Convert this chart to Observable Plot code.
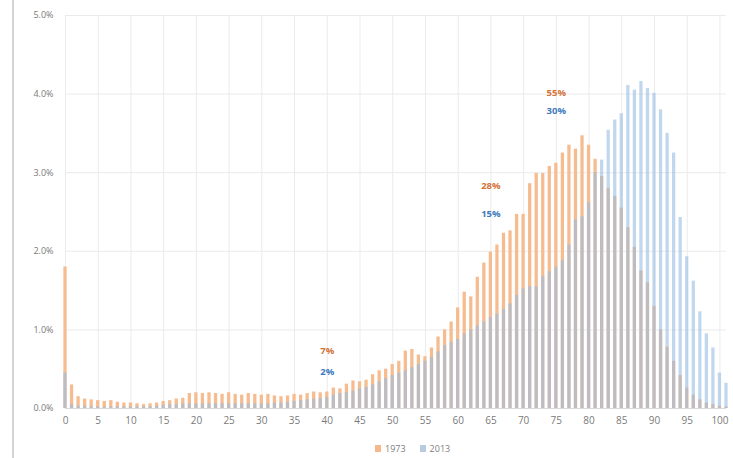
<!DOCTYPE html>
<html><head><meta charset="utf-8">
<script src="https://cdn.jsdelivr.net/npm/d3@7"></script>
<script src="https://cdn.jsdelivr.net/npm/@observablehq/plot@0.6"></script>
<style>
body{margin:0;background:#fff;font-family:"Open Sans","Liberation Sans",sans-serif;}
#wrap{position:relative;width:733px;height:458px;overflow:hidden;}
#frame{position:absolute;left:12px;top:0;width:2px;height:458px;background:#d4d4d4;}
#legend{position:absolute;top:442px;left:375px;font-size:9px;color:#808080;display:flex;align-items:center;gap:4px;white-space:nowrap;}
#legend span.sw{display:inline-block;width:6px;height:7px;}
</style></head>
<body><div id="wrap"><div id="frame"></div><div id="chart"></div>
<div id="legend"><span class="sw" style="background:#f5b88a"></span><span>1973</span><span style="width:6px"></span><span class="sw" style="background:#b9cbe0"></span><span>2013</span></div></div>
<script>
const ages = d3.range(0, 102);
const deaths1973 = [1.8,0.3,0.15,0.12,0.11,0.1,0.09,0.1,0.08,0.07,
  0.07,0.06,0.05,0.06,0.07,0.09,0.1,0.12,0.13,0.19,
  0.2,0.19,0.2,0.19,0.18,0.2,0.18,0.17,0.19,0.18,
  0.17,0.18,0.16,0.15,0.16,0.18,0.17,0.19,0.21,0.2,
  0.21,0.26,0.25,0.31,0.35,0.34,0.36,0.43,0.48,0.5,
  0.56,0.6,0.73,0.75,0.68,0.66,0.77,0.91,1.0,1.1,
  1.28,1.48,1.42,1.67,1.85,1.99,2.08,2.23,2.26,2.47,
  2.47,2.86,2.99,2.99,3.08,3.12,3.25,3.35,3.3,3.47,
  3.35,3.17,2.95,2.8,2.7,2.55,2.3,2.05,1.75,1.6,
  1.3,1.0,0.78,0.6,0.42,0.26,0.17,0.11,0.07,0.05,
  0.03,0.02];
const deaths2013 = [0.45,0.05,0.03,0.03,0.02,0.02,0.02,0.02,0.02,0.02,
  0.02,0.02,0.02,0.02,0.03,0.04,0.05,0.05,0.06,0.06,
  0.06,0.06,0.06,0.06,0.06,0.06,0.06,0.06,0.06,0.06,
  0.06,0.06,0.07,0.07,0.08,0.09,0.1,0.11,0.12,0.13,
  0.14,0.17,0.19,0.2,0.22,0.25,0.27,0.3,0.34,0.38,
  0.42,0.45,0.48,0.52,0.56,0.6,0.65,0.72,0.8,0.84,
  0.88,0.95,1.0,1.05,1.1,1.16,1.2,1.26,1.33,1.44,
  1.52,1.55,1.55,1.68,1.74,1.8,1.88,2.08,2.4,2.44,
  2.62,3.0,3.16,3.54,3.67,3.75,4.11,4.05,4.16,4.07,
  4.01,3.8,3.5,3.25,2.43,1.93,1.62,1.23,0.95,0.77,
  0.45,0.32];
const xTicks = [0,5,10,15,20,25,30,35,40,45,50,55,60,65,70,75,80,85,90,95,100];
const yTicks = [0,1,2,3,4,5];
const annoLabels = ["55%","30%","28%","15%","7%","2%"];
const annoAge = [75,75,65,65,40,40];
const annoValue = [4.01,3.78,2.83,2.47,0.73,0.47];
const annoSeries = ["1973","2013","1973","2013","1973","2013"];

const rows1973 = ages.map((a,i)=>({age:a, v:deaths1973[i]}));
const rows2013 = ages.map((a,i)=>({age:a, v:deaths2013[i]}));
const annos = annoLabels.map((t,i)=>({t, age:annoAge[i], v:annoValue[i], s:annoSeries[i]}));
const hw = 0.25;

const chart = Plot.plot({
  width:733, height:430,
  marginLeft:65, marginRight:7, marginTop:15, marginBottom:22,
  style:{fontFamily:"'Open Sans','Liberation Sans',sans-serif", background:"transparent"},
  x:{type:"linear", domain:[0,101], label:null},
  y:{domain:[0,5], label:null},
  marks:[
    Plot.gridX(xTicks,{stroke:"#ebebeb", strokeOpacity:1}),
    Plot.gridY(yTicks.slice(1),{stroke:"#ebebeb", strokeOpacity:1}),
    Plot.rectY(rows1973,{x1:d=>d.age-hw, x2:d=>d.age+hw, y:"v", fill:"#f6bc90"}),
    Plot.rectY(rows2013,{x1:d=>d.age-hw, x2:d=>d.age+hw, y:"v", fill:"#98bde3", fillOpacity:0.6}),
    Plot.ruleY([0],{stroke:"#d9d9d9"}),
    Plot.axisX(xTicks,{tickSize:0, tickPadding:8, fontSize:10, fill:"#7a7a7a", label:null}),
    Plot.axisY(yTicks,{tickSize:0, tickPadding:12, fontSize:9, fill:"#7a7a7a", tickFormat:d=>d.toFixed(1)+"%", label:null}),
    Plot.text(annos,{x:"age", y:"v", text:"t", fontSize:9.5, fontWeight:"bold",
      fill:d=>d.s==="1973"?"#d2733a":"#4079bd"})
  ]
});
document.getElementById("chart").appendChild(chart);
</script></body></html>
